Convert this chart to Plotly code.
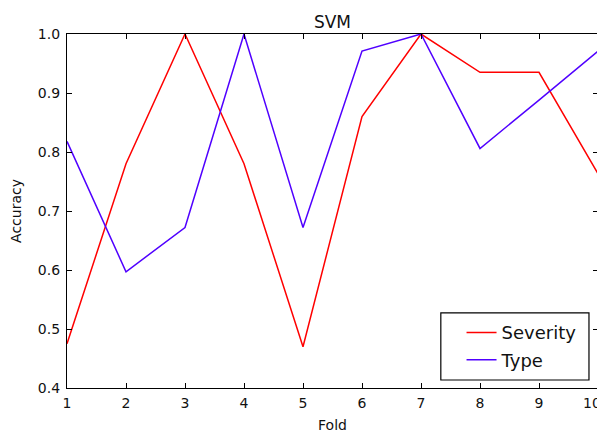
import plotly.graph_objects as go

folds = [1, 2, 3, 4, 5, 6, 7, 8, 9, 10]
severity = [0.475, 0.78, 1.0, 0.78, 0.47, 0.86, 1.0, 0.935, 0.935, 0.763]
type_acc = [0.818, 0.597, 0.672, 1.0, 0.672, 0.971, 1.0, 0.806, 0.888, 0.971]
x_ticks = [1, 2, 3, 4, 5, 6, 7, 8, 9, 10]
y_ticks = [0.4, 0.5, 0.6, 0.7, 0.8, 0.9, 1.0]

font = "DejaVu Sans"
txt = "#111"

fig = go.Figure()
fig.add_trace(go.Scatter(x=folds, y=severity, mode="lines", name="Severity",
                         legendgroup="s", line=dict(color="#ff0000", width=1.5)))
fig.add_trace(go.Scatter(x=folds, y=type_acc, mode="lines", name="Type",
                         legendgroup="t", line=dict(color="#5000ff", width=1.5)))

axis_common = dict(showgrid=False, zeroline=False, showline=True, linecolor="black",
                   linewidth=1.2, mirror="ticks", ticks="inside", ticklen=5,
                   tickcolor="black", tickfont=dict(family=font, size=14, color=txt),
                   ticklabeloverflow="allow")

# the last x tick label sits at the right edge; draw it right-anchored so it stays visible
x_ticktext = [str(v) for v in x_ticks[:-1]] + [""]

# page body has an 8px default margin, so the figure is sized to fit the window
fig.update_layout(
    width=597, height=426,
    margin=dict(l=59, r=7, t=26, b=46, autoexpand=False),
    paper_bgcolor="white", plot_bgcolor="white",
    title=dict(text="SVM", x=0.5, xref="paper", xanchor="center", y=0.967, yanchor="middle",
               font=dict(family=font, size=17, color=txt)),
    xaxis=dict(range=[1, 10], tickvals=x_ticks, ticktext=x_ticktext, ticklabelstandoff=2,
               title=dict(text="Fold", font=dict(family=font, size=14, color=txt), standoff=10),
               **axis_common),
    yaxis=dict(range=[0.4, 1.0], tickvals=y_ticks, ticktext=[f"{v:.1f}" for v in y_ticks],
               ticklabelstandoff=3,
               title=dict(text="Accuracy", font=dict(family=font, size=14, color=txt), standoff=12),
               **axis_common),
    legend=dict(x=0.743, y=0.2085, xanchor="left", yanchor="top",
                bgcolor="rgba(0,0,0,0)", borderwidth=0,
                font=dict(family=font, size=18, color=txt), itemwidth=30,
                tracegroupgap=1),
    showlegend=True,
    shapes=[dict(type="rect", xref="paper", yref="paper", x0=0.704, x1=0.983,
                 y0=0.0226, y1=0.212, line=dict(color="black", width=1.2),
                 fillcolor="rgba(0,0,0,0)", layer="above")],
    annotations=[dict(x=x_ticks[-1], y=0, xref="x", yref="paper", text=str(x_ticks[-1]),
                      showarrow=False, xanchor="right", yanchor="top", xshift=5, yshift=-5,
                      font=dict(family=font, size=14, color=txt))],
)

fig.write_html("out.html")
